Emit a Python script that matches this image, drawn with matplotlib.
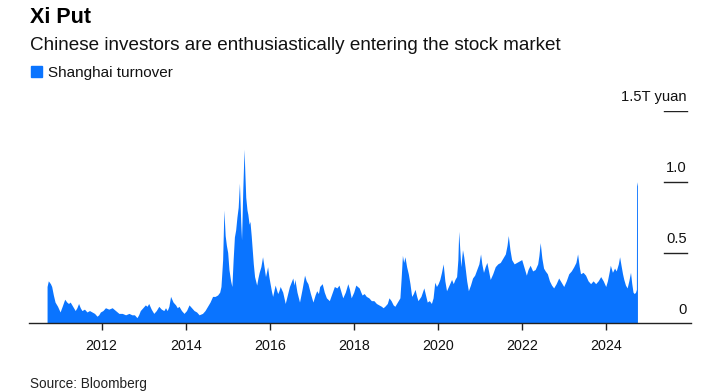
import matplotlib.pyplot as plt

# Shanghai turnover, trillion yuan (x in decimal years)
dates = [
    2010.70, 2010.73, 2010.78, 2010.81, 2010.85, 2010.89, 2010.95, 2011.01, 2011.06, 2011.12,
    2011.17, 2011.21, 2011.25, 2011.29, 2011.33, 2011.37, 2011.41, 2011.45, 2011.49, 2011.53,
    2011.59, 2011.65, 2011.71, 2011.77, 2011.83, 2011.89, 2011.93, 2011.97, 2012.03, 2012.09,
    2012.17, 2012.25, 2012.33, 2012.41, 2012.49, 2012.57, 2012.65, 2012.72, 2012.78, 2012.84,
    2012.88, 2012.92, 2012.98, 2013.04, 2013.08, 2013.12, 2013.18, 2013.24, 2013.30, 2013.36,
    2013.42, 2013.48, 2013.52, 2013.56, 2013.60, 2013.64, 2013.70, 2013.76, 2013.80, 2013.84,
    2013.90, 2013.96, 2014.02, 2014.08, 2014.14, 2014.20, 2014.26, 2014.32, 2014.40, 2014.46,
    2014.52, 2014.58, 2014.64, 2014.70, 2014.76, 2014.81, 2014.84, 2014.88, 2014.91, 2014.94,
    2014.97, 2015.00, 2015.03, 2015.07, 2015.10, 2015.13, 2015.16, 2015.19, 2015.22, 2015.25,
    2015.28, 2015.31, 2015.33, 2015.36, 2015.39, 2015.41, 2015.43, 2015.46, 2015.48, 2015.51,
    2015.53, 2015.56, 2015.58, 2015.61, 2015.64, 2015.69, 2015.72, 2015.75, 2015.79, 2015.83,
    2015.86, 2015.90, 2015.93, 2015.95, 2015.98, 2016.01, 2016.04, 2016.07, 2016.10, 2016.13,
    2016.16, 2016.19, 2016.22, 2016.25, 2016.28, 2016.31, 2016.34, 2016.37, 2016.42, 2016.47,
    2016.51, 2016.55, 2016.58, 2016.60, 2016.65, 2016.71, 2016.77, 2016.83, 2016.87, 2016.91,
    2016.97, 2017.03, 2017.08, 2017.12, 2017.16, 2017.19, 2017.25, 2017.30, 2017.35, 2017.42,
    2017.48, 2017.54, 2017.60, 2017.65, 2017.70, 2017.74, 2017.80, 2017.86, 2017.90, 2017.94,
    2018.00, 2018.05, 2018.09, 2018.13, 2018.17, 2018.20, 2018.25, 2018.30, 2018.36, 2018.42,
    2018.48, 2018.54, 2018.60, 2018.66, 2018.70, 2018.74, 2018.80, 2018.84, 2018.89, 2018.94,
    2018.98, 2019.02, 2019.06, 2019.10, 2019.13, 2019.16, 2019.19, 2019.22, 2019.26, 2019.30,
    2019.34, 2019.38, 2019.42, 2019.46, 2019.50, 2019.53, 2019.60, 2019.67, 2019.71, 2019.75,
    2019.80, 2019.85, 2019.89, 2019.93, 2019.97, 2020.01, 2020.05, 2020.09, 2020.13, 2020.17,
    2020.21, 2020.27, 2020.33, 2020.37, 2020.41, 2020.45, 2020.48, 2020.50, 2020.53, 2020.55,
    2020.57, 2020.59, 2020.62, 2020.65, 2020.69, 2020.73, 2020.78, 2020.83, 2020.88, 2020.93,
    2020.98, 2021.02, 2021.05, 2021.09, 2021.13, 2021.17, 2021.21, 2021.25, 2021.31, 2021.37,
    2021.43, 2021.49, 2021.55, 2021.61, 2021.65, 2021.68, 2021.72, 2021.76, 2021.82, 2021.88,
    2021.94, 2022.00, 2022.05, 2022.11, 2022.15, 2022.20, 2022.26, 2022.32, 2022.38, 2022.41,
    2022.44, 2022.48, 2022.52, 2022.56, 2022.61, 2022.66, 2022.71, 2022.76, 2022.82, 2022.88,
    2022.94, 2023.00, 2023.06, 2023.12, 2023.18, 2023.24, 2023.29, 2023.33, 2023.37, 2023.40,
    2023.46, 2023.52, 2023.58, 2023.64, 2023.70, 2023.76, 2023.82, 2023.88, 2023.94, 2024.00,
    2024.04, 2024.08, 2024.11, 2024.16, 2024.21, 2024.25, 2024.30, 2024.33, 2024.37, 2024.40,
    2024.43, 2024.47, 2024.51, 2024.55, 2024.59, 2024.62, 2024.65, 2024.68, 2024.71, 2024.73,
    2024.735, 2024.755,
]
turnover = [
    0.26, 0.30, 0.28, 0.26, 0.20, 0.15, 0.12, 0.08, 0.12, 0.17,
    0.15, 0.14, 0.15, 0.13, 0.11, 0.09, 0.11, 0.14, 0.11, 0.09,
    0.10, 0.08, 0.09, 0.08, 0.07, 0.05, 0.06, 0.08, 0.09, 0.11,
    0.10, 0.11, 0.09, 0.07, 0.07, 0.06, 0.07, 0.06, 0.06, 0.04,
    0.06, 0.09, 0.11, 0.13, 0.12, 0.14, 0.10, 0.07, 0.09, 0.12,
    0.10, 0.09, 0.11, 0.09, 0.12, 0.19, 0.15, 0.13, 0.11, 0.12,
    0.09, 0.07, 0.09, 0.13, 0.11, 0.09, 0.08, 0.06, 0.07, 0.09,
    0.12, 0.15, 0.19, 0.19, 0.20, 0.22, 0.26, 0.45, 0.80, 0.62,
    0.55, 0.50, 0.38, 0.30, 0.26, 0.45, 0.61, 0.66, 0.75, 0.82,
    0.99, 0.72, 0.59, 0.95, 1.23, 1.05, 0.89, 0.80, 0.77, 0.70,
    0.72, 0.62, 0.54, 0.42, 0.33, 0.27, 0.32, 0.36, 0.40, 0.47,
    0.41, 0.33, 0.37, 0.40, 0.33, 0.28, 0.23, 0.19, 0.23, 0.27,
    0.24, 0.21, 0.23, 0.26, 0.24, 0.22, 0.18, 0.14, 0.20, 0.26,
    0.29, 0.32, 0.27, 0.31, 0.22, 0.15, 0.24, 0.34, 0.30, 0.28,
    0.21, 0.15, 0.20, 0.23, 0.21, 0.26, 0.28, 0.22, 0.18, 0.16,
    0.21, 0.26, 0.25, 0.27, 0.22, 0.18, 0.22, 0.28, 0.24, 0.18,
    0.22, 0.27, 0.26, 0.25, 0.22, 0.20, 0.21, 0.19, 0.18, 0.16,
    0.16, 0.14, 0.13, 0.12, 0.11, 0.12, 0.14, 0.18, 0.16, 0.13,
    0.12, 0.14, 0.16, 0.18, 0.32, 0.48, 0.43, 0.47, 0.40, 0.35,
    0.28, 0.19, 0.21, 0.24, 0.19, 0.16, 0.19, 0.25, 0.20, 0.15,
    0.16, 0.14, 0.18, 0.29, 0.26, 0.28, 0.31, 0.36, 0.42, 0.30,
    0.23, 0.27, 0.31, 0.28, 0.31, 0.33, 0.45, 0.65, 0.50, 0.40,
    0.46, 0.52, 0.47, 0.40, 0.30, 0.23, 0.27, 0.32, 0.34, 0.38,
    0.42, 0.49, 0.42, 0.36, 0.40, 0.43, 0.37, 0.31, 0.35, 0.40,
    0.42, 0.43, 0.46, 0.49, 0.55, 0.62, 0.52, 0.45, 0.42, 0.43,
    0.44, 0.45, 0.40, 0.34, 0.38, 0.41, 0.37, 0.38, 0.42, 0.48,
    0.57, 0.46, 0.39, 0.37, 0.35, 0.30, 0.27, 0.25, 0.28, 0.32,
    0.29, 0.26, 0.30, 0.35, 0.37, 0.40, 0.43, 0.49, 0.40, 0.35,
    0.36, 0.34, 0.30, 0.28, 0.30, 0.28, 0.30, 0.33, 0.30, 0.26,
    0.30, 0.36, 0.41, 0.36, 0.39, 0.37, 0.42, 0.47, 0.40, 0.35,
    0.31, 0.27, 0.25, 0.30, 0.36, 0.28, 0.22, 0.21, 0.22, 0.24,
    1.00, 0.97,
]

year_ticks = [2012, 2014, 2016, 2018, 2020, 2022, 2024]
y_levels = [0, 0.5, 1.0, 1.5]
y_labels = ['0', '0.5', '1.0', '1.5T yuan']

plt.rcParams['font.family'] = ['Liberation Sans', 'DejaVu Sans']

blue = '#0a74ff'
W, H = 719, 392

fig = plt.figure(figsize=(W / 100, H / 100), dpi=100)
ax = fig.add_axes([29 / W, 1 - 323.3 / H, 662 / W, 212.3 / H])

ax.fill_between(dates, turnover, 0, color=blue, linewidth=0)
ax.set_xlim(2010.27, 2026.03)
ax.set_ylim(0, 1.5)

for s in ['top', 'right', 'left']:
    ax.spines[s].set_visible(False)
ax.spines['bottom'].set_color('#222222')
ax.spines['bottom'].set_linewidth(1)
ax.set_yticks([])
ax.set_xticks(year_ticks)
ax.set_xticklabels([str(y) for y in year_ticks], fontsize=10.3, color='#111111')
ax.tick_params(axis='x', length=5, width=1, color='#222222', pad=6)

# short right-hand gridline stubs with labels sitting on top
for v, lab in zip(y_levels, y_labels):
    if v > 0:
        ax.axhline(v, xmin=0.959, xmax=0.994, color='#222222', linewidth=1)
    ax.annotate(lab, xy=(0.994, v), xycoords=('axes fraction', 'data'),
                xytext=(0, 7), textcoords='offset points',
                ha='right', va='baseline', fontsize=10.6, color='#111111')

fig.text(30 / W, 1 - 22.7 / H, 'Xi Put', fontsize=15.5, fontweight='bold',
         va='baseline', ha='left', color='#000000')
fig.text(30 / W, 1 - 50 / H, 'Chinese investors are enthusiastically entering the stock market',
         fontsize=13.6, va='baseline', ha='left', color='#111111')
fig.patches.append(plt.Rectangle((31 / W, 1 - 77 / H), 11 / W, 11 / H,
                                 transform=fig.transFigure, color=blue))
fig.text(48 / W, 1 - 76.7 / H, 'Shanghai turnover', fontsize=11,
         va='baseline', ha='left', color='#111111')
fig.text(30 / W, 1 - 388.3 / H, 'Source: Bloomberg', fontsize=9.8,
         va='baseline', ha='left', color='#222222')

fig.savefig('out.png', dpi=100)
